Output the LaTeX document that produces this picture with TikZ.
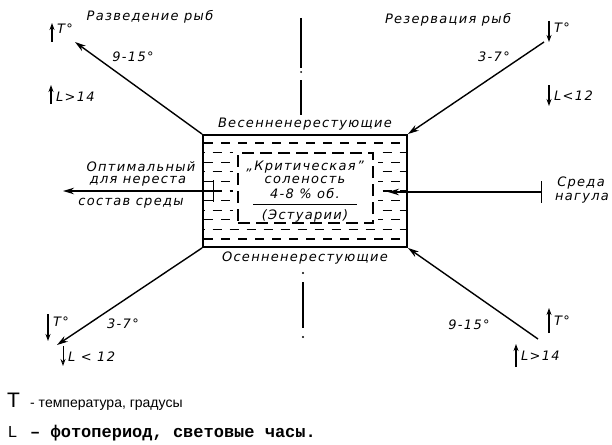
\documentclass[tikz,border=0pt]{standalone}
\usepackage{fontspec}
\setmainfont{DejaVu Sans}
\newfontfamily\hand{DejaVu Sans}[LetterSpace=10]
\newfontfamily\legA{Liberation Sans}
\newfontfamily\legB{Liberation Mono}
\usetikzlibrary{arrows.meta}

\begin{document}
\begin{tikzpicture}[x=1pt,y=-1pt,
  lab/.style={font=\hand\itshape\fontsize{13}{14}\selectfont, inner sep=0pt},
  conn/.style={line width=1.4pt, -{Stealth[length=11pt,width=6.5pt]}},
  barconn/.style={line width=1.4pt, {Bar[width=22pt,line width=1.4pt]}-{Stealth[length=11pt,width=6.5pt]}},
  ind/.style={line width=1.5pt, -{Stealth[length=7pt,width=5pt]}},
  indo/.style={line width=0.8pt, -{Stealth[open,length=7pt,width=5pt]}},
  hatch/.style={line width=1.1pt},
  axis/.style={line width=1.1pt},
]
\useasboundingbox (0,0) rectangle (612,444);

% hatching inside the box
\foreach \i in {0,...,10} {
  \pgfmathsetmacro\yy{143+\i*9.6}
  \pgfmathsetmacro\ph{mod(\i,2)*8.5}
  \draw[hatch, dash pattern=on 9pt off 8pt, dash phase=\ph pt] (204,\yy) -- (406,\yy);
}
\fill[white] (233,148) rectangle (378,227);

% main box and inner dashed frame
\node[draw, line width=1.9pt, minimum width=204pt, minimum height=112pt, inner sep=0pt] (box) at (305,191) {};
\node[draw, line width=1.1pt, dash pattern=on 12pt off 6pt, minimum width=135pt, minimum height=70pt, inner sep=0pt] (inner) at (305.5,188) {};

% inner text
\node[lab] (crit) at (305,167) {„Критическая”};
\node[lab] (sol) at (305,180) {соленость};
\node[lab] (pct) at (305,194) {4-8 \% об.};
\coordinate (ruleL) at (253,204);
\coordinate (ruleR) at (357,204);
\draw[line width=1pt] (ruleL) -- (ruleR);
\node[lab] (est) at (305,215.5) {(Эстуарии)};

% box labels
\node[lab] (spring) at (305,124) {Весенненерестующие};
\node[lab] (autumn) at (305,258) {Осенненерестующие};

% corner connectors
\coordinate (tlend) at (75,42);
\coordinate (trend) at (544,42);
\coordinate (blend) at (57,345);
\coordinate (brend) at (538,339);
\draw[conn] (box.north west) -- (tlend);
\draw[conn] (trend) -- (box.north east);
\draw[conn] (box.south west) -- (blend);
\draw[conn] (brend) -- (box.south east);

% side connectors
\coordinate (lbar) at (214,191);
\coordinate (lend) at (63,191);
\draw[barconn] (lbar) -- (lend);
\coordinate (rbar) at (542,192);
\coordinate (rend) at (388,192);
\draw[barconn] (rbar) -- (rend);

% titles
\node[lab] (razv) at (150,17) {Разведение рыб};
\node[lab] (rezv) at (448,20) {Резервация рыб};
\node[lab] (d1) at (133,57) {9-15°};
\node[lab] (d2) at (494,57) {3-7°};
\node[lab] (d3) at (123,324) {3-7°};
\node[lab] (d4) at (469,325) {9-15°};

\node[lab] (opt1) at (141,167) {Оптимальный};
\node[lab] (opt2) at (138,181) {для нереста};
\node[lab] (opt3) at (131,203) {состав среды};
\node[lab] (sr1) at (581,183) {Среда};
\node[lab] (sr2) at (582,198) {нагула};

% indicators
\node[lab, anchor=west] (t1) at (57,29) {T°};
\draw[ind] (52,42) -- (52,23);
\node[lab, anchor=west] (l1) at (56,97) {L>14};
\draw[ind] (51,104) -- (51,85);

\node[lab, anchor=west] (t2) at (554,28) {T°};
\draw[ind] (549,21) -- (549,42);
\node[lab, anchor=west] (l2) at (554,96) {L<12};
\draw[ind] (549,85) -- (549,106);

\node[lab, anchor=west] (t3) at (53,322) {T°};
\draw[ind] (48,314) -- (48,341);
\node[lab, anchor=west] (l3) at (68,357) {L < 12};
\draw[indo] (63,346) -- (63,366);

\node[lab, anchor=west] (t4) at (554,321) {T°};
\draw[ind] (549,333) -- (549,308);
\node[lab, anchor=west] (l4) at (521,356) {L>14};
\draw[ind] (516,367) -- (516,344);

% centre dash-dot axes
\draw[axis] (301,18) -- (301,68);
\fill (301,72) circle (1pt);
\draw[axis] (301,80) -- (301,115);
\fill (303,273) circle (1.1pt);
\draw[axis] (303,282) -- (303,328);
\fill (303,337) circle (1.1pt);

% legend
\node[anchor=base west, inner sep=0pt, font=\legA\fontsize{21}{22}\selectfont] (legT) at (7,407) {T};
\node[anchor=base west, inner sep=0pt, font=\legA\fontsize{14}{16}\selectfont] (legTt) at (30,407) {- температура, градусы};
\node[anchor=base west, inner sep=0pt, font=\legA\fontsize{16}{17}\selectfont] (legL) at (8,437) {L};
\node[anchor=base west, inner sep=0pt, font=\legB\bfseries\fontsize{17}{18}\selectfont] (legLt) at (30,437) {– фотопериод, световые часы.};
\end{tikzpicture}
\end{document}
